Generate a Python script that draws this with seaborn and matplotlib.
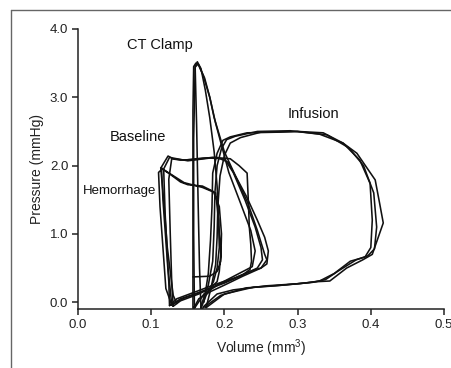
import matplotlib
matplotlib.use("Agg")
import matplotlib.pyplot as plt
from matplotlib.lines import Line2D
import numpy as np
import pandas as pd
import seaborn as sns

# Pressure-volume loops (volume in mm^3, pressure in mmHg), one list pair per recorded cycle
infusion_v1 = [0.171, 0.190, 0.212, 0.258, 0.300, 0.326, 0.344, 0.367, 0.389, 0.402, 0.417, 0.412,
               0.406, 0.381, 0.362, 0.335, 0.300, 0.276, 0.231, 0.208, 0.198, 0.190, 0.184, 0.183,
               0.181, 0.178, 0.172]
infusion_p1 = [-0.07, 0.12, 0.18, 0.24, 0.27, 0.30, 0.31, 0.50, 0.62, 0.70, 1.16, 1.45,
               1.79, 2.18, 2.33, 2.48, 2.50, 2.49, 2.48, 2.42, 2.37, 2.18, 1.89, 1.39,
               0.91, 0.42, 0.00]
infusion_v2 = [0.170, 0.195, 0.230, 0.270, 0.310, 0.330, 0.350, 0.372, 0.392, 0.400, 0.402, 0.399,
               0.385, 0.362, 0.330, 0.290, 0.245, 0.215, 0.203, 0.196, 0.190, 0.187, 0.186,
               0.184, 0.178, 0.168]
infusion_p2 = [-0.09, 0.10, 0.21, 0.24, 0.28, 0.31, 0.42, 0.60, 0.66, 0.80, 1.20, 1.74,
               2.08, 2.33, 2.46, 2.51, 2.50, 2.43, 2.38, 2.25, 2.00, 1.60, 1.10,
               0.60, 0.25, -0.05]
infusion_v3 = [0.175, 0.200, 0.240, 0.280, 0.320, 0.338, 0.356, 0.380, 0.396, 0.405, 0.408, 0.404,
               0.390, 0.370, 0.340, 0.300, 0.250, 0.222, 0.208, 0.200, 0.194, 0.191, 0.190,
               0.188, 0.182, 0.175]
infusion_p3 = [-0.08, 0.12, 0.22, 0.25, 0.29, 0.33, 0.46, 0.62, 0.68, 0.78, 1.10, 1.60,
               2.00, 2.26, 2.45, 2.50, 2.49, 2.41, 2.33, 2.15, 1.85, 1.40, 0.95,
               0.55, 0.22, -0.08]

baseline_v1 = [0.125, 0.135, 0.160, 0.190, 0.215, 0.235, 0.250, 0.258, 0.260, 0.255, 0.245, 0.230,
               0.215, 0.205, 0.190, 0.170, 0.145, 0.130, 0.123, 0.114, 0.116, 0.120, 0.124, 0.125]
baseline_p1 = [-0.05, 0.05, 0.15, 0.27, 0.36, 0.45, 0.50, 0.56, 0.75, 0.95, 1.20, 1.55,
               1.85, 2.05, 2.12, 2.11, 2.08, 2.10, 2.14, 1.98, 1.50, 0.90, 0.30, -0.05]
baseline_v2 = [0.130, 0.140, 0.165, 0.190, 0.210, 0.225, 0.235, 0.237, 0.236, 0.234, 0.233, 0.231,
               0.220, 0.208, 0.184, 0.160, 0.140, 0.128, 0.124, 0.126, 0.128, 0.130]
baseline_p2 = [-0.06, 0.02, 0.12, 0.25, 0.33, 0.40, 0.48, 0.60, 0.85, 1.10, 1.40, 1.89,
               2.00, 2.10, 2.12, 2.09, 2.08, 2.10, 1.80, 1.00, 0.30, -0.06]
baseline_v3 = [0.128, 0.145, 0.170, 0.200, 0.225, 0.245, 0.252, 0.250, 0.242, 0.228, 0.212,
               0.200, 0.180, 0.150, 0.125, 0.117, 0.119, 0.123, 0.128]
baseline_p3 = [-0.04, 0.06, 0.16, 0.28, 0.40, 0.50, 0.62, 0.80, 1.10, 1.50, 1.90,
               2.10, 2.11, 2.07, 2.12, 1.95, 1.30, 0.50, -0.04]

hemorrhage_v = [0.157, 0.180, 0.190, 0.195, 0.196, 0.193, 0.185, 0.170, 0.150, 0.140, 0.125, 0.115,
                0.110, 0.112, 0.116, 0.120, 0.128, 0.140, 0.160, 0.180, 0.190, 0.193, 0.195, 0.192,
                0.188, 0.170, 0.145, 0.120, 0.113, 0.117, 0.122, 0.130, 0.135]
hemorrhage_p = [0.37, 0.38, 0.45, 0.60, 1.00, 1.40, 1.62, 1.70, 1.72, 1.76, 1.88, 1.95,
                1.90, 1.40, 0.80, 0.20, -0.04, 0.05, 0.12, 0.20, 0.30, 0.45, 0.70, 1.20,
                1.60, 1.68, 1.75, 1.92, 1.97, 1.50, 0.80, 0.10, -0.02]

clamp_v1 = [0.158, 0.165, 0.180, 0.200, 0.225, 0.250, 0.258, 0.255, 0.245, 0.232, 0.215, 0.200,
            0.193, 0.186, 0.180, 0.173, 0.165, 0.161, 0.158, 0.157, 0.157, 0.157, 0.157]
clamp_p1 = [-0.09, 0.05, 0.15, 0.25, 0.38, 0.50, 0.62, 0.70, 1.05, 1.45, 1.85, 2.20,
            2.45, 2.70, 3.00, 3.28, 3.47, 3.50, 3.45, 2.80, 1.50, 0.50, -0.09]
clamp_v2 = [0.168, 0.175, 0.185, 0.190, 0.193, 0.192, 0.190, 0.186, 0.180, 0.174, 0.168, 0.163,
            0.160, 0.162, 0.164, 0.166, 0.168]
clamp_p2 = [-0.09, 0.10, 0.30, 0.50, 0.80, 1.20, 1.70, 2.20, 2.70, 3.10, 3.42, 3.52,
            3.45, 2.60, 1.50, 0.50, -0.09]
clamp_v3 = [0.159, 0.172, 0.195, 0.220, 0.238, 0.242, 0.236, 0.222, 0.206, 0.196, 0.188,
            0.180, 0.171, 0.164, 0.160, 0.158, 0.158, 0.159]
clamp_p3 = [-0.09, 0.12, 0.28, 0.42, 0.52, 0.75, 1.05, 1.45, 1.90, 2.30, 2.62,
            3.00, 3.32, 3.49, 3.44, 2.40, 1.00, -0.09]

x_ticks = [0.0, 0.1, 0.2, 0.3, 0.4, 0.5]
y_ticks = [0.0, 1.0, 2.0, 3.0, 4.0]

# condition name -> (label x, label y, font size)
labels = {"CT Clamp": (0.112, 3.77, 10.5), "Infusion": (0.322, 2.75, 10.5),
          "Baseline": (0.082, 2.42, 10.5), "Hemorrhage": (0.057, 1.63, 9.5)}

cycles = [("infusion", 1, infusion_v1, infusion_p1), ("infusion", 2, infusion_v2, infusion_p2),
          ("infusion", 3, infusion_v3, infusion_p3),
          ("baseline", 1, baseline_v1, baseline_p1), ("baseline", 2, baseline_v2, baseline_p2),
          ("baseline", 3, baseline_v3, baseline_p3),
          ("hemorrhage", 1, hemorrhage_v, hemorrhage_p),
          ("clamp", 1, clamp_v1, clamp_p1), ("clamp", 2, clamp_v2, clamp_p2),
          ("clamp", 3, clamp_v3, clamp_p3)]
frames = []
for cond, k, v, p in cycles:
    frames.append(pd.DataFrame({"volume": v, "pressure": p, "trace": f"{cond}-{k}",
                                "order": np.arange(len(v))}))
df = pd.concat(frames, ignore_index=True)

sns.set_style("ticks")
plt.rcParams["font.family"] = ["Liberation Sans", "DejaVu Sans"]
plt.rcParams["mathtext.default"] = "regular"

fig = plt.figure(figsize=(4.51, 3.68), dpi=100)
ax = fig.add_axes([0.173, 0.1603, 0.8115, 0.7609])

for trace, sub in df.groupby("trace", sort=False):
    sns.lineplot(data=sub, x="volume", y="pressure", sort=False, estimator=None,
                 color="#111111", lw=1.15, ax=ax, legend=False)

ax.set_xlim(0.0, 0.5)
ax.set_ylim(-0.1, 4.0)
ax.set_xticks(x_ticks)
ax.set_xticklabels([f"{t:.1f}" for t in x_ticks])
ax.set_yticks(y_ticks)
ax.set_yticklabels([f"{t:.1f}" for t in y_ticks])
ax.tick_params(axis="both", direction="out", length=4, width=1.1, labelsize=9.5,
               colors="#222222", pad=3)
ax.set_xlabel("Volume (mm$^3$)", fontsize=10, color="#222222", labelpad=5)
ax.set_ylabel("Pressure (mmHg)", fontsize=10, color="#222222", labelpad=4)
sns.despine(ax=ax)
for s in ("left", "bottom"):
    ax.spines[s].set_linewidth(1.1)
    ax.spines[s].set_color("#222222")

for name, (lx, ly, fs) in labels.items():
    ax.text(lx, ly, name, ha="center", va="center", fontsize=fs, color="#111111")

# thin frame running along the top and left of the figure
fig.add_artist(Line2D([10.5 / 451, 10.5 / 451], [0, 1 - 10 / 368], color="#666666", lw=1.0,
                      transform=fig.transFigure))
fig.add_artist(Line2D([10.5 / 451, 1.0], [1 - 10 / 368, 1 - 10 / 368], color="#666666", lw=1.0,
                      transform=fig.transFigure))

fig.savefig("out.png", dpi=100)
